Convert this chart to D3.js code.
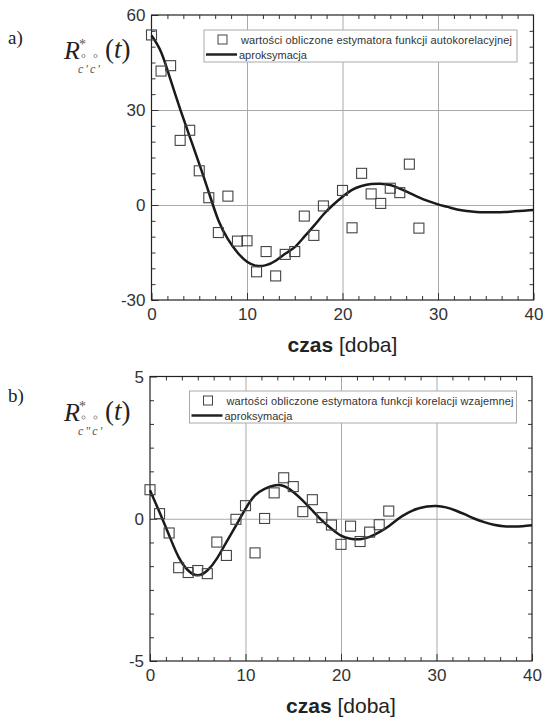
<!DOCTYPE html>
<html>
<head>
<meta charset="utf-8">
<script src="https://cdn.jsdelivr.net/npm/d3@7"></script>
<style>
	body { margin: 0; background: #fff; }
	svg { display: block; }
	.tick text { font-family: "Liberation Sans", Arial, sans-serif; font-size: 17px; fill: #333; }
	.grid line { stroke: #aaa; stroke-width: 1; }
	.grid path, .ticks path { display: none; }
	.ticks line { stroke: #333; stroke-width: 1; }
</style>
</head>
<body>
<div id="chart"></div>
<script>

// --- panel a): autocorrelation ---
let daysA = [0,1,2,3,4,5,6,7,8,9,10,11,12,13,14,15,16,17,18,20,21,22,23,24,25,26,27,28];
let estA = [53.7,42.3,44.0,20.4,23.6,10.8,2.3,-8.7,2.8,-11.4,-11.3,-21.1,-14.7,-22.4,-15.6,-14.7,
	-3.5,-9.6,-0.3,4.6,-7.2,10.0,3.5,0.5,5.3,3.9,12.9,-7.3];
let fitDaysA = d3.range(0, 41);
let fitA = [53.5,48.3,39.5,30.3,21.6,13.0,4.0,-4.8,-10.8,-15.0,-17.9,-19.2,-19.0,-17.6,-15.4,-13.3,
	-10.0,-6.6,-3.0,0.0,2.6,4.8,6.0,6.6,6.7,6.3,5.2,3.8,2.4,1.2,0.2,-0.6,-1.4,-1.9,-2.2,-2.3,-2.3,
	-2.2,-2.0,-1.8,-1.6];
let yTicksA = [-30, 0, 30, 60];

// --- panel b): cross correlation ---
let daysB = d3.range(0, 26);
let estB = [1.02,0.18,-0.5,-1.72,-1.89,-1.82,-1.93,-0.82,-1.29,-0.02,0.46,-1.2,0.01,0.91,1.44,1.13,
	0.25,0.67,0.04,-0.22,-0.9,-0.26,-0.8,-0.47,-0.21,0.27];
let fitDaysB = d3.range(0, 41);
let fitB = [1.0,0.23,-0.58,-1.35,-1.82,-1.99,-1.82,-1.4,-0.82,-0.24,0.35,0.82,1.05,1.17,1.15,0.94,
	0.64,0.29,-0.06,-0.35,-0.59,-0.7,-0.72,-0.64,-0.47,-0.26,0.0,0.21,0.35,0.43,0.45,0.4,0.29,0.15,
	0.0,-0.12,-0.21,-0.26,-0.27,-0.26,-0.23];
let yTicksB = [-5, 0, 5];

let xTicks = [0, 10, 20, 30, 40];
let legendPoints = ["wartości obliczone estymatora funkcji autokorelacyjnej",
	"wartości obliczone estymatora funkcji korelacji wzajemnej"];
let legendLine = "aproksymacja";
let xLabelBold = "czas";
let xLabelRest = " [doba]";

let svg = d3.select("#chart")
	.append("svg")
		.attr("width", 543)
		.attr("height", 717)
	;

function minorTicks(major) {
	// 5 minor ticks between each pair of majors
	let out = [];
	for (let i = 0; i < major.length - 1; i++) {
		let step = (major[i+1] - major[i]) / 6;
		for (let k = 1; k < 6; k++) out.push(major[i] + k * step);
		}
	return out;
	}

function drawPanel(p) {
	let x = d3.scaleLinear().domain([0, 40]).range([p.left, p.right]);
	let y = d3.scaleLinear().domain(d3.extent(p.yTicks)).range([p.bottom, p.top]);
	let w = p.right - p.left;
	let h = p.bottom - p.top;
	let g = svg.append("g");

	// Grid lines on inner major ticks
	g.append("g")
		.attr("class", "grid")
		.attr("transform", `translate(0, ${p.bottom})`)
		.call(d3.axisBottom(x).tickValues(xTicks.slice(1, -1)).tickSize(-h).tickFormat(""))
		;
	g.append("g")
		.attr("class", "grid")
		.attr("transform", `translate(${p.left}, 0)`)
		.call(d3.axisLeft(y).tickValues(p.yTicks.slice(1, -1)).tickSize(-w).tickFormat(""))
		;

	// Ticks, all pointing inward
	let fmt = d => String(d);
	g.append("g").attr("class", "ticks")
		.attr("transform", `translate(0, ${p.bottom})`)
		.call(d3.axisBottom(x).tickValues(xTicks).tickSizeInner(-7).tickSizeOuter(0)
			.tickPadding(8).tickFormat(fmt))
		;
	g.append("g").attr("class", "ticks")
		.attr("transform", `translate(0, ${p.bottom})`)
		.call(d3.axisBottom(x).tickValues(minorTicks(xTicks)).tickSize(-4).tickFormat(""))
		;
	g.append("g").attr("class", "ticks")
		.attr("transform", `translate(0, ${p.top})`)
		.call(d3.axisTop(x).tickValues(minorTicks(xTicks)).tickSize(-4).tickFormat(""))
		;
	let yAxisG = g.append("g").attr("class", "ticks")
		.attr("transform", `translate(${p.left}, 0)`)
		.call(d3.axisLeft(y).tickValues(p.yTicks).tickSizeInner(-7).tickSizeOuter(0)
			.tickPadding(6).tickFormat(fmt))
		;
	yAxisG.selectAll(".tick text").attr("dy", "0.34em");
	g.append("g").attr("class", "ticks")
		.attr("transform", `translate(${p.left}, 0)`)
		.call(d3.axisLeft(y).tickValues(minorTicks(p.yTicks)).tickSize(-4).tickFormat(""))
		;
	g.append("g").attr("class", "ticks")
		.attr("transform", `translate(${p.right}, 0)`)
		.call(d3.axisRight(y).tickValues(minorTicks(p.yTicks)).tickSize(-4).tickFormat(""))
		;

	// Frame
	g.append("rect")
		.attr("x", p.left)
		.attr("y", p.top)
		.attr("width", w)
		.attr("height", h)
		.attr("fill", "none")
		.attr("stroke", "#222")
		.attr("stroke-width", 1.2)
		;

	// Legend
	let lg = g.append("g");
	lg.append("rect")
		.attr("x", p.legend.x)
		.attr("y", p.legend.y)
		.attr("width", p.legend.w)
		.attr("height", 32)
		.attr("fill", "#fff")
		.attr("stroke", "#aaa")
		;
	lg.append("rect")
		.attr("x", p.legend.x + 14)
		.attr("y", p.legend.y + 5)
		.attr("width", 9)
		.attr("height", 9)
		.attr("fill", "none")
		.attr("stroke", "#444")
		;
	lg.append("text")
		.attr("x", p.legend.x + 37)
		.attr("y", p.legend.y + 14)
		.style("font-family", "Liberation Sans, Arial, sans-serif")
		.style("font-size", "11px")
		.attr("fill", "#333")
		.attr("textLength", p.legend.tw)
		.text(p.legendText)
		;
	lg.append("line")
		.attr("x1", p.legend.x + 2)
		.attr("x2", p.legend.x + 33)
		.attr("y1", p.legend.y + 24.5)
		.attr("y2", p.legend.y + 24.5)
		.attr("stroke", "#222")
		.attr("stroke-width", 2.5)
		;
	lg.append("text")
		.attr("x", p.legend.x + 35)
		.attr("y", p.legend.y + 28.5)
		.style("font-family", "Liberation Sans, Arial, sans-serif")
		.style("font-size", "11px")
		.attr("fill", "#333")
		.text(legendLine)
		;

	// Approximation curve
	let line = d3.line()
		.x((d, i) => x(p.fitDays[i]))
		.y(d => y(d))
		.curve(d3.curveNatural)
		;
	g.append("path")
		.datum(p.fit)
		.attr("d", line)
		.attr("fill", "none")
		.attr("stroke", "#1a1a1a")
		.attr("stroke-width", 2.5)
		;

	// Estimator points
	g.selectAll(".pt")
		.data(p.est)
		.enter()
			.append("rect")
				.attr("class", "pt")
				.attr("x", (d, i) => x(p.days[i]) - 5)
				.attr("y", d => y(d) - 5)
				.attr("width", 10)
				.attr("height", 10)
				.attr("fill", "none")
				.attr("stroke", "#444")
				.attr("stroke-width", 1.1)
		;

	// x-axis title
	let t = g.append("text")
		.attr("x", (p.left + p.right) / 2)
		.attr("y", p.bottom + 52)
		.attr("text-anchor", "middle")
		.style("font-family", "Liberation Sans, Arial, sans-serif")
		.style("font-size", "21px")
		.attr("fill", "#222")
		;
	t.append("tspan").style("font-weight", "bold").text(xLabelBold);
	t.append("tspan").text(xLabelRest);

	// Panel letter
	g.append("text")
		.attr("x", 8)
		.attr("y", p.top + p.letterDy)
		.style("font-family", "Liberation Serif, Times New Roman, serif")
		.style("font-size", "19px")
		.attr("fill", "#222")
		.text(p.letter)
		;

	// y-axis title R*(t) with the subscripts
	let serif = "Liberation Serif, Times New Roman, serif";
	let by = p.top + 44;
	g.append("text")
		.attr("x", 64).attr("y", by)
		.style("font-family", serif).style("font-style", "italic").style("font-size", "26px")
		.attr("fill", "#222").text("R");
	g.append("text")
		.attr("x", 79).attr("y", by - 10)
		.style("font-family", serif).style("font-size", "14px")
		.attr("fill", "#555").text("*");
	[83.5, 95.5].forEach(cx => {
		g.append("circle")
			.attr("cx", cx).attr("cy", by - 3)
			.attr("r", 1.6)
			.attr("fill", "none")
			.attr("stroke", "#777")
			.attr("stroke-width", 0.8);
		});
	g.append("text")
		.attr("x", 78).attr("y", by + 14)
		.style("font-family", serif).style("font-style", "italic").style("font-size", "12px")
		.style("letter-spacing", "2px")
		.attr("fill", "#555").text(p.sub);
	let pt = g.append("text")
		.attr("x", 105).attr("y", by - 1)
		.style("font-family", serif).style("font-size", "27px")
		.attr("fill", "#222");
	pt.append("tspan").text("(");
	pt.append("tspan").style("font-style", "italic").text("t");
	pt.append("tspan").text(")");
	}

drawPanel({
	left: 151.5, right: 533.5, top: 15, bottom: 300,
	yTicks: yTicksA, days: daysA, est: estA, fitDays: fitDaysA, fit: fitA,
	legend: { x: 204, y: 30, w: 313, tw: 271 },
	legendText: legendPoints[0],
	letter: "a)", letterDy: 29, sub: "c'c'"
	});

drawPanel({
	left: 150, right: 532, top: 376.5, bottom: 661,
	yTicks: yTicksB, days: daysB, est: estB, fitDays: fitDaysB, fit: fitB,
	legend: { x: 189.5, y: 391, w: 327, tw: 287 },
	legendText: legendPoints[1],
	letter: "b)", letterDy: 25, sub: "c\"c'"
	});

</script>
</body>
</html>
